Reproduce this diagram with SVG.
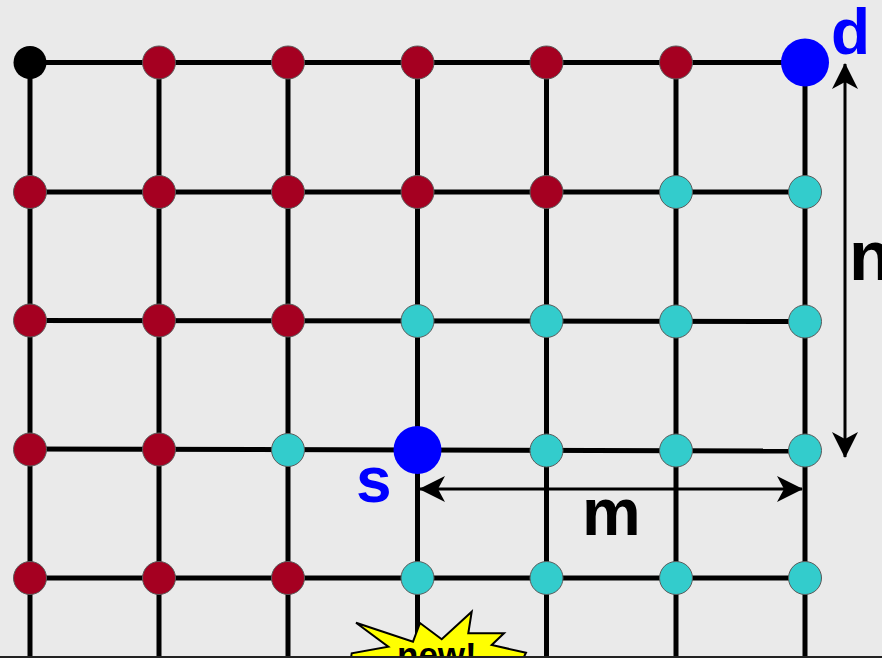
<svg xmlns="http://www.w3.org/2000/svg" width="882" height="658" viewBox="0 0 882 658">
<defs>
<style>
.grid{stroke:#000;stroke-width:5;fill:none}
.dim{stroke:#000;stroke-width:3;fill:none}
.red{fill:#A50021;stroke:#5a5a5a;stroke-width:1}
.cyan{fill:#33CCCC;stroke:#5a5a5a;stroke-width:1}
.blk{fill:#000}
.blue{fill:#0000FF}
.lbl{font-family:"Liberation Sans",Arial,sans-serif;font-weight:bold}
</style>
<marker id="ah" viewBox="0 0 26 26" refX="25" refY="13" markerWidth="26" markerHeight="26" markerUnits="userSpaceOnUse" orient="auto-start-reverse">
<path d="M0,0 L26,13 L0,26 L7,13 Z" fill="#000"/>
</marker>
</defs>
<rect x="0" y="0" width="882" height="658" fill="#EAEAEA"/>
<g id="connectors">
<line class="grid" x1="30" y1="62.5" x2="805" y2="62.5"/>
<line class="grid" x1="30" y1="192" x2="805" y2="192"/>
<line class="grid" x1="30" y1="320.5" x2="805" y2="321.5"/>
<line class="grid" x1="30" y1="449" x2="805" y2="451"/>
<line class="grid" x1="30" y1="578" x2="805" y2="578"/>
<line class="grid" x1="30" y1="62" x2="30" y2="658"/>
<line class="grid" x1="159" y1="62" x2="159" y2="658"/>
<line class="grid" x1="288" y1="62" x2="288" y2="658"/>
<line class="grid" x1="417.5" y1="62" x2="417.5" y2="658"/>
<line class="grid" x1="546.5" y1="62" x2="546.5" y2="658"/>
<line class="grid" x1="676" y1="62" x2="676" y2="658"/>
<line class="grid" x1="805" y1="62" x2="805" y2="658"/>
<line class="dim" x1="845" y1="64" x2="845" y2="457" marker-start="url(#ah)" marker-end="url(#ah)"/>
<line class="dim" x1="420" y1="489" x2="802" y2="489" marker-start="url(#ah)" marker-end="url(#ah)"/>
</g>
<g id="row0">
<circle id="n00" class="blk" cx="30" cy="62.5" r="16.5"/>
<circle id="n01" class="red" cx="159" cy="62.5" r="16.5"/>
<circle id="n02" class="red" cx="288" cy="62.5" r="16.5"/>
<circle id="n03" class="red" cx="417.5" cy="62.5" r="16.5"/>
<circle id="n04" class="red" cx="546.5" cy="62.5" r="16.5"/>
<circle id="n05" class="red" cx="676" cy="62.5" r="16.5"/>
<g id="d"><circle class="blue" cx="805" cy="62.5" r="24"/><text class="lbl" x="831" y="54" font-size="64" fill="#0000FF">d</text></g>
</g>
<g id="row1">
<circle id="n10" class="red" cx="30" cy="192" r="16.5"/>
<circle id="n11" class="red" cx="159" cy="192" r="16.5"/>
<circle id="n12" class="red" cx="288" cy="192" r="16.5"/>
<circle id="n13" class="red" cx="417.5" cy="192" r="16.5"/>
<circle id="n14" class="red" cx="546.5" cy="192" r="16.5"/>
<circle id="n15" class="cyan" cx="676" cy="192" r="16.5"/>
<circle id="n16" class="cyan" cx="805" cy="192" r="16.5"/>
</g>
<g id="row2">
<circle id="n20" class="red" cx="30" cy="320.5" r="16.5"/>
<circle id="n21" class="red" cx="159" cy="320.5" r="16.5"/>
<circle id="n22" class="red" cx="288" cy="320.5" r="16.5"/>
<circle id="n23" class="cyan" cx="417.5" cy="321" r="16.5"/>
<circle id="n24" class="cyan" cx="546.5" cy="321" r="16.5"/>
<circle id="n25" class="cyan" cx="676" cy="321.5" r="16.5"/>
<circle id="n26" class="cyan" cx="805" cy="321.5" r="16.5"/>
</g>
<g id="row3">
<circle id="n30" class="red" cx="30" cy="449.5" r="16.5"/>
<circle id="n31" class="red" cx="159" cy="449.5" r="16.5"/>
<circle id="n32" class="cyan" cx="288" cy="450" r="16.5"/>
<g id="s"><circle class="blue" cx="417.5" cy="450" r="24"/><text class="lbl" x="356" y="502" font-size="64" fill="#0000FF">s</text></g>
<circle id="n34" class="cyan" cx="546.5" cy="450.5" r="16.5"/>
<circle id="n35" class="cyan" cx="676" cy="450.5" r="16.5"/>
<circle id="n36" class="cyan" cx="805" cy="450.5" r="16.5"/>
</g>
<g id="row4">
<circle id="n40" class="red" cx="30" cy="578" r="16.5"/>
<circle id="n41" class="red" cx="159" cy="578" r="16.5"/>
<circle id="n42" class="red" cx="288" cy="578" r="16.5"/>
<circle id="n43" class="cyan" cx="417.5" cy="578" r="16.5"/>
<circle id="n44" class="cyan" cx="546.5" cy="578" r="16.5"/>
<circle id="n45" class="cyan" cx="676" cy="578" r="16.5"/>
<circle id="n46" class="cyan" cx="805" cy="578" r="16.5"/>
</g>
<g id="labels">
<text class="lbl" x="849" y="280" font-size="70" fill="#000">n</text>
<text class="lbl" x="582" y="535" font-size="66" fill="#000">m</text>
</g>
<g id="burst">
<polygon points="356,622.7 413,641.7 420,623 441.7,639.3 471.7,611.7 468.3,633.3 504,633.3 491.7,645 526,652.7 520,665 350,665 351.7,653.3 388.3,646.7" fill="#FFFF00" stroke="#000" stroke-width="2" stroke-linejoin="miter"/>
<text class="lbl" x="397" y="667" font-size="35" fill="#000">new!</text>
</g>
<line x1="0" y1="657" x2="882" y2="657" stroke="#222" stroke-width="2"/>
</svg>
